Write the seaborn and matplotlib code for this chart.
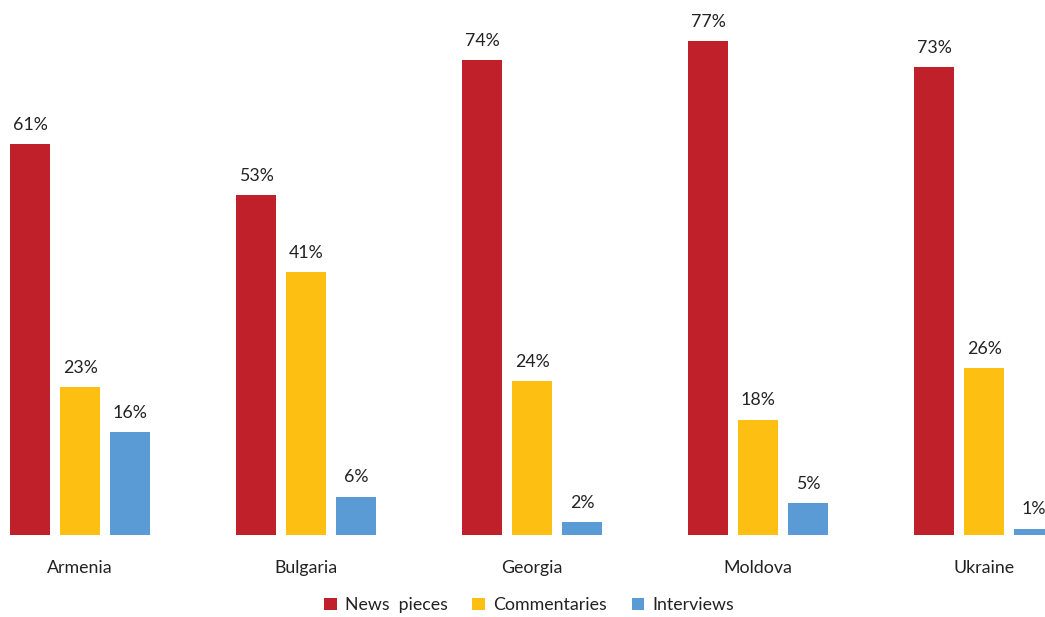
import matplotlib
matplotlib.use("Agg")
import matplotlib.pyplot as plt
import seaborn as sns
import pandas as pd

countries = ["Armenia", "Bulgaria", "Georgia", "Moldova", "Ukraine"]
series = ["News  pieces", "Commentaries", "Interviews"]
news_pieces = [61, 53, 74, 77, 73]
commentaries = [23, 41, 24, 18, 26]
interviews = [16, 6, 2, 5, 1]
colors = ["#C0202A", "#FCBF12", "#5B9BD5"]

rows = []
for name, vals in zip(series, [news_pieces, commentaries, interviews]):
    for c, v in zip(countries, vals):
        rows.append({"country": c, "type": name, "value": v})
df = pd.DataFrame(rows)

sns.set_theme(style="white")
plt.rcParams["font.family"] = ["Lato", "DejaVu Sans"]

fig = plt.figure(figsize=(10.45, 6.17), dpi=100)
ax = fig.add_axes([0, 1 - 535 / 617, 1, 535 / 617])

sns.barplot(data=df, x="country", y="value", hue="type", palette=colors,
            width=0.664, gap=0.2, saturation=1, linewidth=0, ax=ax, legend=True)

for cont in ax.containers:
    labels = [f"{int(v)}%" for v in cont.datavalues]
    ax.bar_label(cont, labels=labels, padding=8, fontsize=12.8, color="#222222")

ax.set_xlim(-0.355, 4.269)
ax.set_ylim(0, 83.4)
ax.set_xlabel("")
ax.set_ylabel("")
ax.set_yticks([])
ax.tick_params(axis="x", length=0, pad=18, labelsize=12.8, labelcolor="#222222")
for s in ax.spines.values():
    s.set_visible(False)

handles, labels = ax.get_legend_handles_labels()
ax.legend_.remove()
fig.legend(handles, labels, loc="center", bbox_to_anchor=(529 / 1045, 1 - 605 / 617),
           ncol=3, frameon=False, fontsize=12.8, handlelength=0.7, handleheight=0.7,
           handletextpad=0.45, columnspacing=1.4, labelcolor="#222222")

fig.savefig("out.png", dpi=100)
